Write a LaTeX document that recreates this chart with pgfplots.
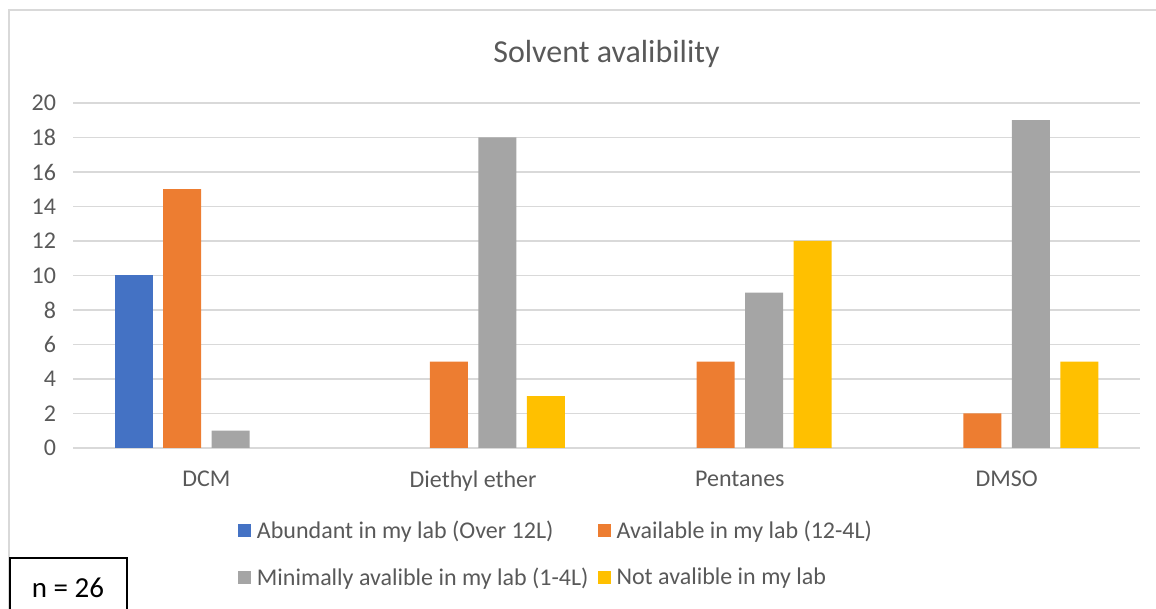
\documentclass[border=0pt]{standalone}
\usepackage{pgfplots}
\pgfplotsset{compat=1.18}
\usepackage{fontspec}
\setmainfont{Carlito}
\definecolor{txt}{HTML}{595959}
\definecolor{gridc}{HTML}{D9D9D9}
\definecolor{cA}{HTML}{4472C4}
\definecolor{cB}{HTML}{ED7D31}
\definecolor{cC}{HTML}{A5A5A5}
\definecolor{cD}{HTML}{FFC000}
\begin{document}
\begin{tikzpicture}[x=0.5pt,y=0.5pt]
% page = 1156 x 609 px, 1 px = 0.5pt, y counted from the bottom
\useasboundingbox (0,0) rectangle (1156,609);
\draw[gridc, line width=0.75pt] (9,-11) -- (9,599) -- (1170,599);
\begin{axis}[
    at={(36.5pt,80.5pt)}, anchor=south west,
    scale only axis,
    width=533.5pt, height=172.5pt,
    ybar=5.25pt, bar width=19pt,
    xmin=-0.5, xmax=3.5,
    ymin=0, ymax=20,
    ytick={0,2,...,20},
    xtick={0,1,2,3},
    xticklabels={DCM,Diethyl ether,Pentanes,DMSO},
    axis line style={draw=none},
    major tick length=0pt,
    ymajorgrids, grid style={gridc, line width=0.8pt},
    tick label style={font=\fontsize{12}{14}\selectfont, text=txt},
    /pgf/number format/assume math mode=true,
    yticklabel style={xshift=-5pt},
    xticklabel style={yshift=-8pt},
    title={Solvent avalibility},
    title style={font=\fontsize{16}{19}\selectfont, text=txt, yshift=8pt},
    legend columns=2,
    legend cell align=left,
    legend style={at={(0.1546,-0.2)}, anchor=north west, draw=none,
        inner sep=0pt, outer sep=0pt,
        font=\fontsize{12}{14}\selectfont, text=txt,
        nodes={inner xsep=0pt, inner ysep=2pt},
        /tikz/every odd column/.append style={column sep=3pt},
        /tikz/every even column/.append style={column sep=4.5pt},
        row sep=9pt},
    legend image code/.code={\fill[#1] (0,-3pt) rectangle (6.5pt,3.5pt);},
]
\addplot[fill=cA, draw=none] coordinates {(0,10)};
\addplot[fill=cB, draw=none] coordinates {(0,15) (1,5) (2,5) (3,2)};
\addplot[fill=cC, draw=none] coordinates {(0,1) (1,18) (2,9) (3,19)};
\addplot[fill=cD, draw=none] coordinates {(1,3) (2,12) (3,5)};
\legend{Abundant in my lab (Over 12L),Available in my lab (12-4L),Minimally avalible in my lab (1-4L),Not avalible in my lab}
\end{axis}
\draw[black, line width=0.6pt] (10,-11) -- (10,51) -- (127,51) -- (127,-11);
\node[text=black, font=\fontsize{14.5}{17}\selectfont] at (68,21) {n = 26};
\end{tikzpicture}
\end{document}
